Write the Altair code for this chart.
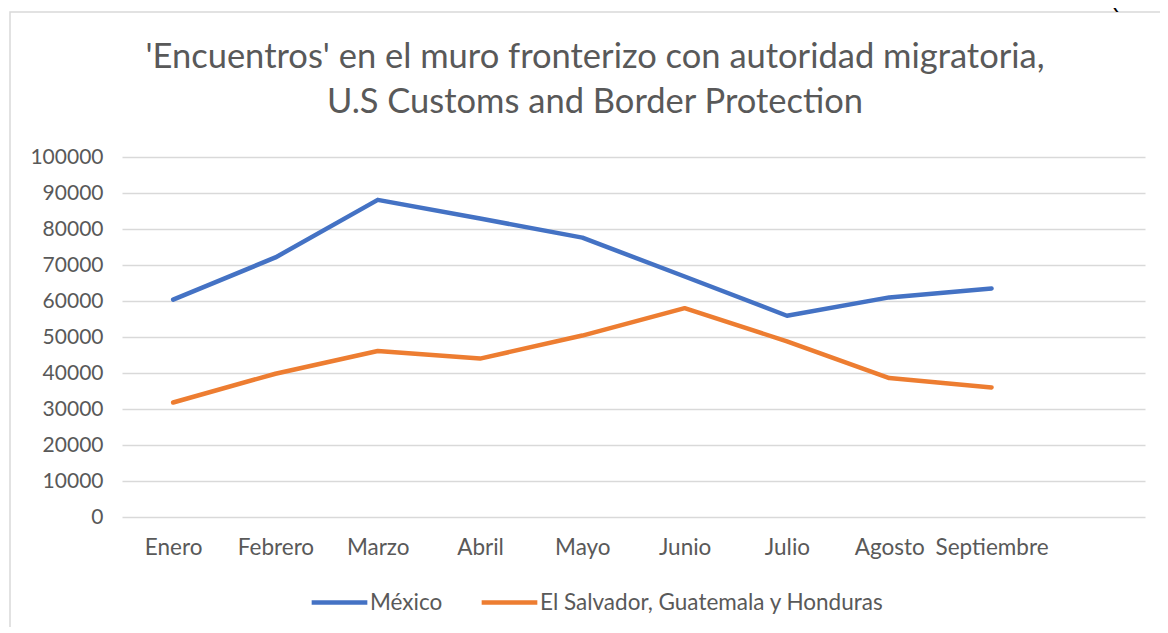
import altair as alt
import pandas as pd

months = ["Enero", "Febrero", "Marzo", "Abril", "Mayo", "Junio", "Julio", "Agosto", "Septiembre"]
mexico = [60400, 72100, 88100, 82900, 77600, 66800, 55900, 61000, 63500]
centroamerica = [31800, 39800, 46100, 44000, 50400, 58000, 48800, 38600, 36000]
series_names = ["México", "El Salvador, Guatemala y Honduras"]
series_colors = ["#4472C4", "#ED7D31"]
y_ticks = list(range(0, 100001, 10000))
title_lines = ["'Encuentros' en el muro fronterizo con autoridad migratoria,",
               "U.S Customs and Border Protection"]

rows = []
for m, a, b in zip(months, mexico, centroamerica):
    rows.append({"mes": m, "serie": series_names[0], "valor": a})
    rows.append({"mes": m, "serie": series_names[1], "valor": b})
df = pd.DataFrame(rows)

domain_x = months + [" "]
FONT = "Lato"
TXT = "#595959"

border = alt.Chart(pd.DataFrame({"k": [0]})).mark_rect(
    fillOpacity=0, stroke="#d9d9d9", strokeWidth=1.5
).encode(x=alt.value(-112), x2=alt.value(1300), y=alt.value(-145), y2=alt.value(700))

outside = alt.Chart(pd.DataFrame({"t": ["Protection"]})).mark_text(
    font="Liberation Sans", fontStyle="italic", fontSize=26, align="left", baseline="alphabetic", color="black"
).encode(x=alt.value(-122), y=alt.value(-150), text="t:N")
outside2 = alt.Chart(pd.DataFrame({"t": ["(2022"]})).mark_text(
    font="Liberation Sans", fontSize=26, align="left", baseline="alphabetic", color="black"
).encode(x=alt.value(988), y=alt.value(-150), text="t:N")

title1 = alt.Chart(pd.DataFrame({"t": [title_lines[0]]})).mark_text(
    font=FONT, fontSize=34.5, align="center", baseline="alphabetic", color=TXT
).encode(x=alt.value(473), y=alt.value(-89), text="t:N")
title2 = alt.Chart(pd.DataFrame({"t": [title_lines[1]]})).mark_text(
    font=FONT, fontSize=34.5, align="center", baseline="alphabetic", color=TXT
).encode(x=alt.value(473), y=alt.value(-44), text="t:N")

lines = alt.Chart(df).mark_line(strokeWidth=4.5, strokeCap="round", strokeJoin="round").encode(
    x=alt.X("mes:N", sort=domain_x,
            scale=alt.Scale(type="point", domain=domain_x, padding=0.5),
            axis=alt.Axis(title=None, labelAngle=0, domain=False, ticks=False, grid=False,
                          labelFont=FONT, labelFontSize=22.5, labelColor=TXT, labelPadding=19)),
    y=alt.Y("valor:Q", scale=alt.Scale(domain=[0, 100000], nice=False),
            axis=alt.Axis(title=None, values=y_ticks, format="d", domain=False, ticks=False,
                          gridColor="#d9d9d9", gridWidth=1.5,
                          labelFont=FONT, labelFontSize=21, labelColor=TXT, labelPadding=19)),
    color=alt.Color("serie:N", scale=alt.Scale(domain=series_names, range=series_colors),
                    legend=alt.Legend(title=None, orient="none", legendX=187, legendY=415,
                                      direction="horizontal", symbolType="stroke", symbolSize=3100,
                                      symbolStrokeWidth=4.5, labelFont=FONT, labelFontSize=22.5,
                                      labelColor=TXT, columnPadding=29, labelOffset=0,
                                      labelLimit=500)),
    order=alt.Order("serie:N")
)

chart = alt.layer(border, outside, outside2, title1, title2, lines).properties(
    width=1023, height=360,
    autosize="none",
    padding={"left": 114, "top": 149, "right": 15, "bottom": 110},
).configure_view(stroke=None)

chart.save("out.html", embed_options={"renderer": "svg", "actions": False})
